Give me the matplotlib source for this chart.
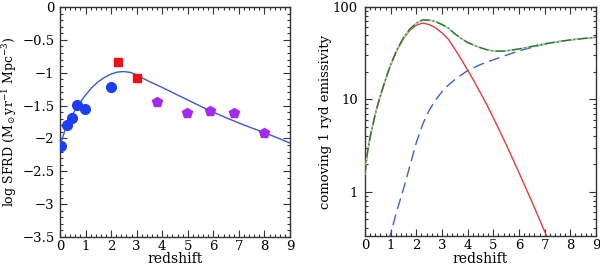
import numpy as np
import matplotlib
matplotlib.use("Agg")
import matplotlib.pyplot as plt
from matplotlib.ticker import MultipleLocator, LogLocator, NullFormatter, FixedLocator

plt.rcParams['font.family'] = ['DejaVu Serif']
plt.rcParams['mathtext.fontset'] = 'dejavuserif'

# ---- Left panel data ----
circ_z = [0.03, 0.29, 0.48, 0.68, 0.98, 1.98]
circ_v = [-2.12, -1.80, -1.69, -1.49, -1.55, -1.21]
sq_z = [2.28, 3.03]
sq_v = [-0.83, -1.08]
pent_z = [3.78, 4.98, 5.88, 6.80, 8.00]
pent_v = [-1.45, -1.62, -1.59, -1.61, -1.91]

fit_z = [0.0, 0.05, 0.1, 0.2, 0.3, 0.4, 0.5, 0.625, 0.75, 0.875, 1.0, 1.25, 1.5, 1.75, 2.0,
         2.25, 2.5, 2.75, 3.0, 3.25, 3.5, 3.75, 4.0, 4.5, 5.0, 5.5, 6.0, 6.5, 7.0,
         7.5, 8.0, 8.5, 9.0]
fit_v = [-2.14, -2.06, -1.99, -1.87, -1.78, -1.70, -1.63, -1.55, -1.475, -1.405, -1.34, -1.225,
         -1.135, -1.07, -1.02, -0.99, -0.982, -0.995, -1.03, -1.085, -1.135, -1.18, -1.225,
         -1.32, -1.415, -1.51, -1.60, -1.685, -1.765, -1.84, -1.91, -1.99, -2.07]

# ---- Right panel data ----
red_z = [0.0, 0.05, 0.1, 0.2, 0.3, 0.4, 0.5, 0.625, 0.75, 0.875, 1.0, 1.25, 1.5, 1.75, 2.0,
         2.25, 2.5, 2.75, 3.0, 3.25, 3.5, 3.75, 4.0, 4.25, 4.5, 4.75, 5.0, 5.5, 6.0,
         6.5, 7.0, 7.3]
red_v = [1.55, 2.1, 2.7, 3.9, 5.2, 6.9, 8.8, 11.5, 14.8, 18.8, 23.5, 34, 45.5, 56, 63.5,
         67, 64.5, 59.6, 52.5, 44.7, 35, 27.2, 20.7, 15.7, 11.7, 8.7, 6.3, 3.24, 1.6,
         0.78, 0.37, 0.24]

blue_z = [0.9, 1.0, 1.25, 1.5, 1.75, 2.0, 2.25, 2.5, 2.75, 3.0, 3.25, 3.5, 3.75, 4.0,
          4.5, 5.0, 5.5, 6.0, 6.5, 7.0, 7.5, 8.0, 8.5, 9.0]
blue_v = [0.29, 0.35, 0.63, 1.07, 1.9, 3.4, 5.4, 7.6, 9.8, 12.1, 14.3, 16.3, 18.3, 20.5,
          23.8, 26.8, 30, 33.5, 36.5, 39.5, 42, 44, 45.5, 47]

green_z = [0.0, 0.05, 0.1, 0.2, 0.3, 0.4, 0.5, 0.625, 0.75, 0.875, 1.0, 1.25, 1.5, 1.75, 2.0,
           2.25, 2.5, 2.75, 3.0, 3.25, 3.5, 3.75, 4.0, 4.25, 4.5, 4.75, 5.0, 5.25, 5.5,
           6.0, 6.5, 7.0, 7.5, 8.0, 8.5, 9.0]
green_v = [1.55, 2.1, 2.7, 3.9, 5.2, 6.9, 8.8, 11.5, 14.8, 18.9, 23.8, 34.6, 46.6, 57.9, 66.9,
           72.4, 72, 69.4, 64.6, 59, 51.3, 45.5, 41.2, 38.6, 36.2, 34.4, 33.4, 33.2, 33.5,
           35.1, 37.3, 39.9, 42, 44, 45.5, 47]

fig = plt.figure(figsize=(6.0, 2.67), dpi=100)
axL = fig.add_axes([60/600, 30/267, 230/600, 230/267])
axR = fig.add_axes([365/600, 31/267, 231/600, 229/267])

def style(ax, ypad):
    ax.tick_params(which='both', direction='in', top=True, right=True,
                   labelsize=9.5, width=0.8, color='#333333')
    ax.tick_params(axis='x', which='both', pad=2.5)
    ax.tick_params(axis='y', which='both', pad=ypad)
    ax.tick_params(which='major', length=5)
    ax.tick_params(which='minor', length=2.5)
    for s in ax.spines.values():
        s.set_linewidth(1.0)
        s.set_color('#333333')

# Left
axL.plot(fit_z, fit_v, color='#3a58d0', lw=1.0, zorder=2)
axL.plot(circ_z, circ_v, 'o', color='#1e3ff0', ms=7, mec='#1e3ff0', zorder=3)
axL.plot(sq_z, sq_v, 's', color='#ee1111', ms=5.5, mec='#ee1111', zorder=3)
axL.plot(pent_z, pent_v, 'p', color='#a52af0', ms=7, mec='#a52af0', zorder=3)
axL.set_xlim(0, 9)
axL.set_ylim(-3.5, 0)
axL.xaxis.set_major_locator(MultipleLocator(1))
axL.xaxis.set_minor_locator(MultipleLocator(0.2))
axL.yaxis.set_minor_locator(MultipleLocator(0.1))
axL.set_yticks([0, -0.5, -1, -1.5, -2, -2.5, -3, -3.5])
axL.set_yticklabels(['0', '\u22120.5', '\u22121', '\u22121.5', '\u22122', '\u22122.5', '\u22123', '\u22123.5'])
axL.set_xlabel('redshift', fontsize=10, va='baseline')
axL.xaxis.set_label_coords(0.5, -(263 - 237) / 230)
axL.set_ylabel(r'log SFRD (M$_\odot$yr$^{-1}$ Mpc$^{-3}$)', fontsize=9)
axL.yaxis.set_label_coords(-(60 - 19) / 230, 0.5)
style(axL, 4)

# Right
axR.plot(red_z, red_v, color='#e83a3a', lw=1.0, zorder=2)
axR.plot(blue_z, blue_v, color='#3f5fd8', lw=1.0, dashes=(8, 4), zorder=2)
axR.plot(green_z, green_v, color='#a8d8a0', lw=1.2, zorder=3)
axR.plot(green_z, green_v, color='#2f6f2f', lw=1.0, dashes=(7, 2, 1, 2), zorder=4)
axR.set_yscale('log')
axR.set_xlim(0, 9)
axR.set_ylim(0.33, 100)
axR.xaxis.set_major_locator(MultipleLocator(1))
axR.xaxis.set_minor_locator(MultipleLocator(0.2))
axR.yaxis.set_major_locator(FixedLocator([1, 10, 100]))
axR.yaxis.set_minor_locator(LogLocator(base=10, subs=np.arange(2, 10)))
axR.yaxis.set_minor_formatter(NullFormatter())
axR.set_yticklabels(['1', '10', '100'])
axR.set_xlabel('redshift', fontsize=10, va='baseline')
axR.xaxis.set_label_coords(0.5, -(263 - 236) / 229)
axR.set_ylabel('comoving 1 ryd emissivity', fontsize=9.5)
axR.yaxis.set_label_coords(-(365 - 332) / 231, 0.5)
style(axR, 5)

fig.savefig('out.png', dpi=100)
